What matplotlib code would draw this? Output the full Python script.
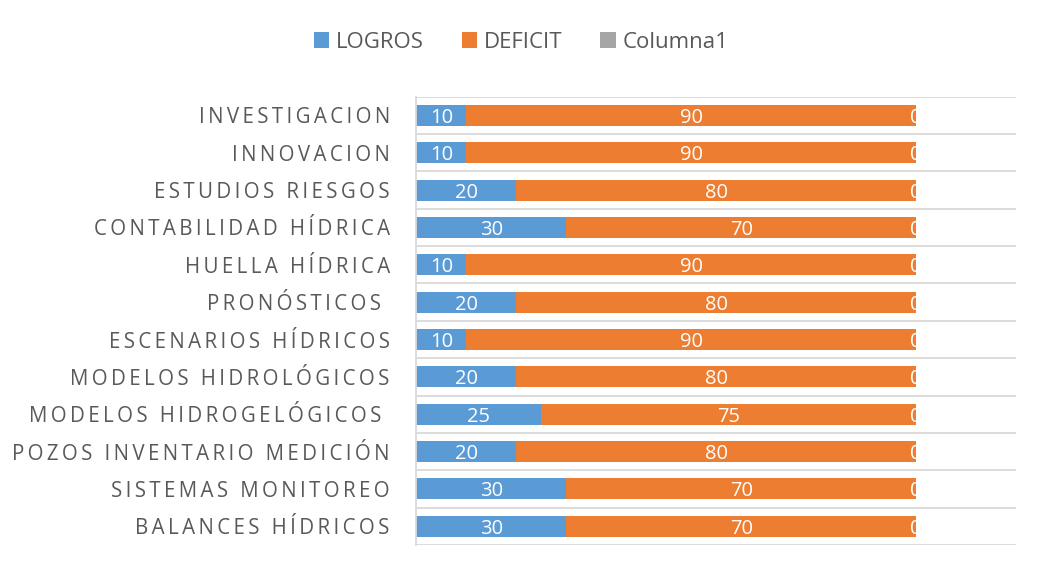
import matplotlib
matplotlib.use('Agg')
import matplotlib.pyplot as plt
import numpy as np

plt.rcParams['font.family'] = ['Open Sans', 'DejaVu Sans']

# data, top to bottom as in the chart
categories = [
    'INVESTIGACION', 'INNOVACION', 'ESTUDIOS RIESGOS', 'CONTABILIDAD HÍDRICA',
    'HUELLA HÍDRICA', 'PRONÓSTICOS ', 'ESCENARIOS HÍDRICOS', 'MODELOS HIDROLÓGICOS',
    'MODELOS HIDROGELÓGICOS ', 'POZOS INVENTARIO MEDICIÓN', 'SISTEMAS MONITOREO',
    'BALANCES HÍDRICOS',
]
logros = [10, 10, 20, 30, 10, 20, 10, 20, 25, 20, 30, 30]
deficit = [90, 90, 80, 70, 90, 80, 90, 80, 75, 80, 70, 70]
columna1 = [0, 0, 0, 0, 0, 0, 0, 0, 0, 0, 0, 0]

BLUE = '#5B9BD5'
ORANGE = '#ED7D31'
GRAY = '#A5A5A5'
TEXT = '#595959'
GRID = '#D9D9D9'

fig = plt.figure(figsize=(10.38, 5.76), dpi=100)
ax = fig.add_axes([0.401, 0.054, 0.578, 0.778])

n = len(categories)
y = np.arange(n)[::-1]
logros_a = np.array(logros)
deficit_a = np.array(deficit)
col_a = np.array(columna1)

h = 0.56
b1 = ax.barh(y, logros_a, height=h, color=BLUE, label='LOGROS')
b2 = ax.barh(y, deficit_a, left=logros_a, height=h, color=ORANGE, label='DEFICIT')
b3 = ax.barh(y, col_a, left=logros_a + deficit_a, height=h, color=GRAY, label='Columna1')

# value labels centred in each segment
for c in (b1, b2, b3):
    for rect in c:
        w = rect.get_width()
        ax.text(rect.get_x() + w / 2, rect.get_y() + rect.get_height() / 2, f'{w:g}',
                ha='center', va='center_baseline', color='white', fontsize=14.5)

ax.set_xlim(0, 120)
ax.set_ylim(-0.5, n - 0.5)

# letter-spaced category labels
spaced = ['\u2009'.join(lbl) for lbl in categories]
ax.set_yticks(y)
ax.set_yticklabels(spaced, fontsize=14.8, color=TEXT)
ax.tick_params(axis='y', length=0, pad=19)
ax.set_xticks([])

ax.set_yticks(np.arange(-0.5, n, 1.0), minor=True)
ax.tick_params(axis='y', which='minor', length=0)
ax.grid(True, axis='y', which='minor', color=GRID, linewidth=1.3)
ax.set_axisbelow(True)

for s in ('top', 'right', 'bottom'):
    ax.spines[s].set_visible(False)
ax.spines['left'].set_color(GRID)
ax.spines['left'].set_linewidth(1.3)

fig.legend(handles=[b1, b2, b3], loc='center', bbox_to_anchor=(0.502, 0.927),
           ncol=3, frameon=False, fontsize=16, handlelength=0.7, handleheight=0.7,
           handletextpad=0.3, columnspacing=1.7, labelcolor=TEXT)

fig.savefig('out.png', dpi=100, facecolor='white')
